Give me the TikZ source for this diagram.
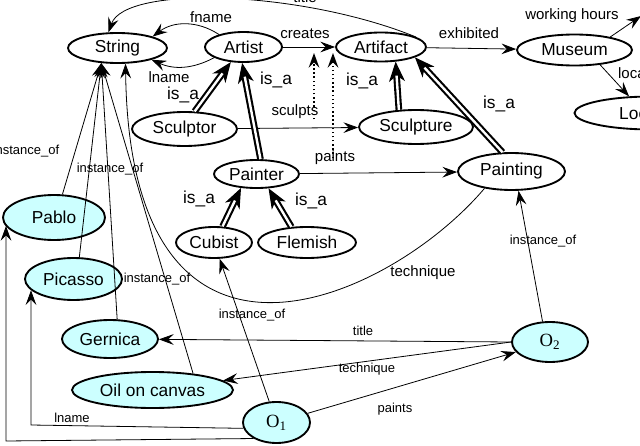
\documentclass[tikz,border=0pt]{standalone}
\usepackage{fontspec}
\setmainfont{Liberation Sans}
\newfontfamily\objfont{Liberation Serif}
\usetikzlibrary{shapes.geometric, arrows.meta}
\definecolor{instcyan}{RGB}{204,255,255}

\begin{document}
\begin{tikzpicture}[
    x=0.75pt, y=-0.75pt,
    >={Stealth[length=11pt, width=8pt, inset=4pt]},
    font=\fontsize{13}{15}\selectfont,
    cnode/.style={ellipse, draw, line width=1.4pt, inner sep=0pt},
    inode/.style={cnode, fill=instcyan},
    onode/.style={inode, font=\objfont\fontsize{14}{16}\selectfont},
    rlab/.style={inner sep=0pt, font=\fontsize{11.25}{13}\selectfont},
    ilab/.style={inner sep=0pt, font=\fontsize{9.75}{11}\selectfont},
    isalab/.style={inner sep=0pt, font=\fontsize{13}{15}\selectfont},
    redge/.style={->, line width=0.6pt},
    subedge/.style={->, dotted, line width=1.1pt},
    isaedge/.style={-{Stealth[length=15pt, width=12pt, inset=4.5pt]}, line width=0.8pt,
                    postaction={draw, -, double, double distance=1.8pt,
                                line width=1.6pt, shorten >=10.5pt}},
]
\useasboundingbox (0,0) rectangle (640,446);
\clip (0,0) rectangle (640,446);

% Schema: classes
\node[cnode, minimum width=74.25pt, minimum height=22.5pt] (string) at (117.5,48) {String};
\node[cnode, minimum width=57.75pt, minimum height=22.5pt] (artist) at (243.5,47) {Artist};
\node[cnode, minimum width=67.5pt, minimum height=21.75pt] (artifact) at (381,47) {Artifact};
\node[cnode, minimum width=86.25pt, minimum height=23.25pt] (museum) at (574.5,50) {Museum};
\node[cnode, minimum width=116.25pt, minimum height=24.75pt] (location) at (652,113) {Location};
\node[cnode, minimum width=78.75pt, minimum height=25.5pt] (sculptor) at (184.5,129) {Sculptor};
\node[cnode, minimum width=85.5pt, minimum height=25.5pt] (sculpture) at (416,127) {Sculpture};
\node[cnode, minimum width=63.75pt, minimum height=21pt] (painter) at (256.5,174) {Painter};
\node[cnode, minimum width=80.25pt, minimum height=27.75pt] (painting) at (511.5,171.5) {Painting};
\node[cnode, minimum width=57pt, minimum height=23.25pt] (cubist) at (214,242.5) {Cubist};
\node[cnode, minimum width=73.5pt, minimum height=23.25pt] (flemish) at (307,242.5) {Flemish};
\coordinate (hours) at (641,16);

% Data: instances
\node[inode, minimum width=76.5pt, minimum height=33.75pt] (pablo) at (54,217.5) {Pablo};
\node[inode, minimum width=72.75pt, minimum height=31.5pt] (picasso) at (73.5,279) {Picasso};
\node[inode, minimum width=72pt, minimum height=28.5pt] (gernica) at (110,339) {Gernica};
\node[inode, minimum width=120.75pt, minimum height=27pt] (oil) at (152.5,390) {Oil on canvas};
\node[onode, minimum width=50.25pt, minimum height=30.75pt] (o1) at (276.5,422.5) {O\textsubscript{1}};
\node[onode, minimum width=57pt, minimum height=30pt] (o2) at (550,342) {O\textsubscript{2}};

% Labels
\node[rlab] (lbTitle) at (305,-3) {title};
\node[rlab] (lbFname) at (211,17) {fname};
\node[rlab] (lbLname) at (169,77) {lname};
\node[rlab] (creates) at (305,34) {creates};
\node[rlab] (lbExhib) at (469,33) {exhibited};
\node[rlab] (lbHours) at (572,16) {working hours};
\node[rlab] (lbLoc) at (644,73) {location};
\node[rlab] (sculpts) at (295,112) {sculpts};
\node[rlab] (paints) at (335,158) {paints};
\node[rlab] (lbTech) at (423,273) {technique};
\node[isalab] (isa1) at (183,95) {is\_a};
\node[isalab] (isa2) at (276,80) {is\_a};
\node[isalab] (isa3) at (362,81) {is\_a};
\node[isalab] (isa4) at (499,104) {is\_a};
\node[isalab] (isa5) at (199,199) {is\_a};
\node[isalab] (isa6) at (311,201) {is\_a};
\node[ilab] (inst1) at (26,151) {instance\_of};
\node[ilab] (inst2) at (110,169) {instance\_of};
\node[ilab] (inst3) at (157,279) {instance\_of};
\node[ilab] (inst4) at (252,315) {instance\_of};
\node[ilab] (inst5) at (543,241) {instance\_of};
\node[ilab] (lbTitle2) at (363,331) {title};
\node[ilab] (lbTech2) at (367,369) {technique};
\node[ilab] (lbPaints2) at (395,409) {paints};
\node[ilab] (lbLname2) at (72,418) {lname};

% Properties between classes
\draw[redge] (artifact.16) .. controls (300,-10) and (125,-15) .. (string.120);
\draw[redge] (artist.153) to[bend right=35] (string.18);
\draw[redge] (artist.200) to[bend left=26] (string.-19);
\draw[redge] (artist) -- (artifact);
\draw[redge] (artifact) -- (museum);
\draw[redge] (museum.20) -- (hours);
\draw[redge] (museum.-30) -- (location.144);
\draw[redge] (sculptor) -- (sculpture);
\draw[redge] (painter) -- (painting);
\draw[redge] (painting.212) .. controls (390,300) and (130,420) .. (string.-63);

% Sub-properties of creates
\coordinate (crA) at (314,53);
\coordinate (crB) at (333,53);
\draw[subedge] (sculpts.south -| crA) -- (crA);
\draw[subedge] (paints -| crB) -- (crB);

% is_a hierarchy
\draw[isaedge] (sculptor.60) -- (artist.-130);
\draw[isaedge] (painter.75) -- (artist.-95);
\draw[isaedge] (sculpture.135) -- (artifact.-45);
\draw[isaedge] (painting.115) -- (artifact.-17);
\draw[isaedge] (cubist.62) -- (painter.-138);
\draw[isaedge] (flemish.135) -- (painter.-50);

% instance_of
\draw[redge] (pablo.70) -- (string.-137);
\draw[redge] (picasso.75) -- (string.-137);
\draw[redge] (gernica.70) -- (string.-137);
\draw[redge] (oil.22) -- (string.-137);
\draw[redge] (o1) -- (cubist);
\draw[redge] (o2.110) -- (painting.-70);

% Data properties
\draw[redge] (o2.west) -- (gernica);
\draw[redge] (o2.west) -- (oil);
\draw[redge] (o1) -- (o2);
\coordinate (lnCorner) at (31,425);
\coordinate (fnCorner) at (6,441);
\draw[redge] (o1.190) -- (lnCorner) -- (lnCorner |- picasso.195);
\draw[redge] (o1.215) -- (fnCorner) -- (fnCorner |- pablo.190);
\end{tikzpicture}
\end{document}
